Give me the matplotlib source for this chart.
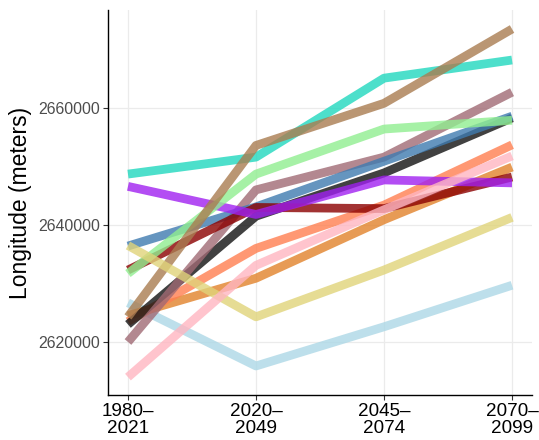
import matplotlib
matplotlib.use("Agg")
import matplotlib.pyplot as plt

plt.rcParams["font.family"] = ["Liberation Sans", "DejaVu Sans"]

periods = ["1980–\n2021", "2020–\n2049", "2045–\n2074", "2070–\n2099"]

lightblue = [2626700, 2615900, 2622600, 2629700]
orange    = [2624500, 2630900, 2640900, 2649900]
coral     = [2623500, 2636000, 2643400, 2653700]
black     = [2623000, 2641500, 2648900, 2658300]
rosybrown = [2620000, 2646000, 2651600, 2662700]
steelblue = [2636400, 2643100, 2650900, 2658600]
darkred   = [2632300, 2643000, 2642800, 2648200]
purple    = [2646600, 2641800, 2647700, 2647200]
green     = [2631700, 2648700, 2656400, 2657900]
turquoise = [2648700, 2651600, 2665100, 2668200]
tan       = [2624300, 2653600, 2660800, 2673500]
khaki     = [2636500, 2624300, 2632300, 2641300]
pink      = [2614000, 2633100, 2642600, 2651800]

series = [
    (lightblue, "#ADD8E6"),
    (orange, "#E2822A"),
    (coral, "#FF7F50"),
    (black, "#111111"),
    (rosybrown, "#A06A74"),
    (steelblue, "#3F7BB0"),
    (darkred, "#8B0000"),
    (purple, "#A020F0"),
    (green, "#90EE90"),
    (turquoise, "#20D8BE"),
    (tan, "#A97C50"),
    (khaki, "#E0D47A"),
    (pink, "#FFB6C1"),
]

fig = plt.figure(figsize=(5.39, 4.40), dpi=100)
ax = fig.add_axes([108/539, 1-395/440, (532-108)/539, (395-10)/440])

x = list(range(len(periods)))
for vals, col in series:
    ax.plot(x, vals, color=col, lw=6.3, alpha=0.8, solid_capstyle="butt", solid_joinstyle="round", zorder=3)

ax.set_xlim(-0.156, 3.156)
ax.set_ylim(2610940, 2676750)
ax.set_xticks(x)
ax.set_xticklabels(periods, fontsize=13.6, color="black", linespacing=1.05)
ax.set_yticks([2620000, 2640000, 2660000])
ax.set_yticklabels(["2620000", "2640000", "2660000"], fontsize=11.4, color="#4d4d4d")
ax.set_ylabel("Longitude (meters)", fontsize=16.5, labelpad=5)
ax.grid(True, color="#ebebeb", lw=0.9, zorder=0)
ax.set_axisbelow(True)
for s in ["top", "right"]:
    ax.spines[s].set_visible(False)
for s in ["left", "bottom"]:
    ax.spines[s].set_linewidth(1.0)
    ax.spines[s].set_color("black")
ax.tick_params(axis="both", length=3.5, width=0.8, color="#333333", pad=2)

fig.savefig("out.png", dpi=100)
